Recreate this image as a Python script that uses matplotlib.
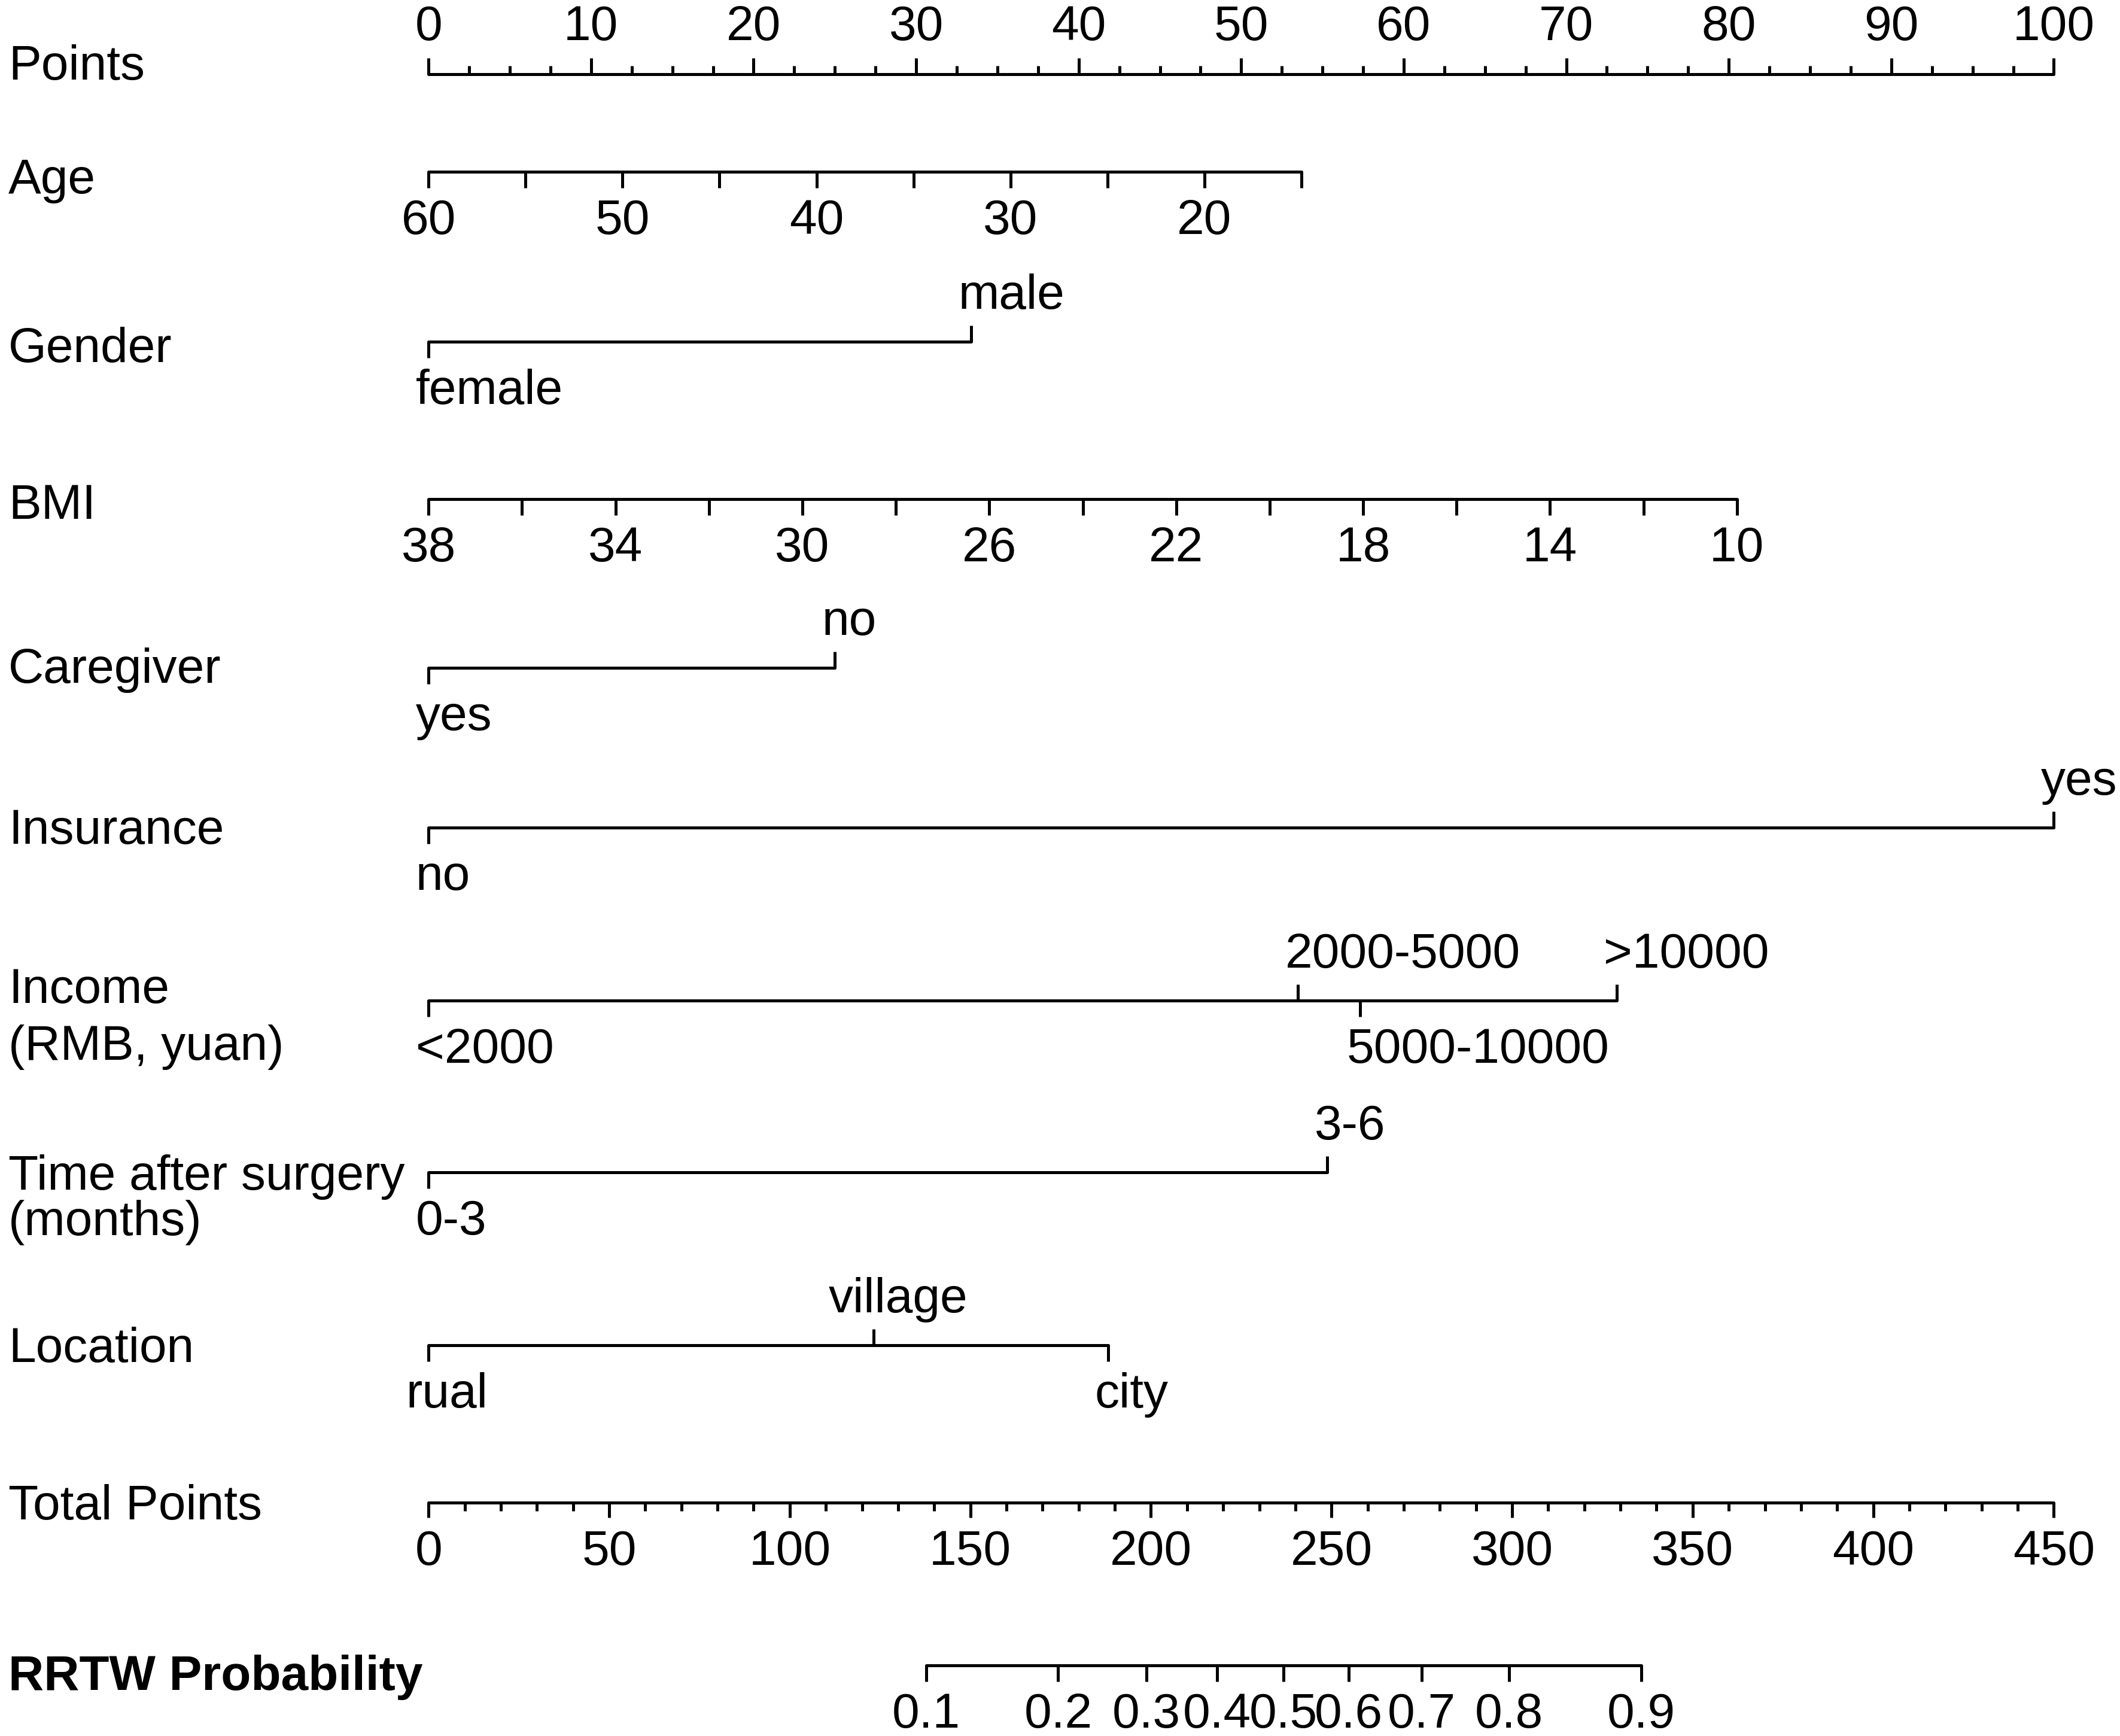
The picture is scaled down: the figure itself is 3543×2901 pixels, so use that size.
import matplotlib.pyplot as plt
from matplotlib.transforms import blended_transform_factory
import numpy as np

plt.rcParams['font.family'] = ['Liberation Sans', 'DejaVu Sans']

# ---- datos del nomograma ----
points_major = np.arange(0, 101, 10)
points_minor = np.arange(0, 100.1, 2.5)

# Age: 60 años -> 0 puntos, 15 años -> 53.7 puntos
age_ends = [60, 15]
age_pts_ends = [0, 53.7]
age_ticks = np.arange(60, 14, -5)
age_labels = [60, 50, 40, 30, 20]

gender_levels = ['female', 'male']
gender_pts = [0, 33.4]

bmi_ends = [38, 10]
bmi_pts_ends = [0, 80.5]
bmi_ticks = np.arange(38, 9, -2)
bmi_labels = [38, 34, 30, 26, 22, 18, 14, 10]

caregiver_levels = ['yes', 'no']
caregiver_pts = [0, 25.0]

insurance_levels = ['no', 'yes']
insurance_pts = [0, 100]

income_levels = ['<2000', '2000-5000', '5000-10000', '>10000']
income_pts = [0, 53.5, 57.3, 73.1]

time_levels = ['0-3', '3-6']
time_pts = [0, 55.3]

location_levels = ['rual', 'village', 'city']
location_pts = [0, 27.4, 41.8]

total_max = 450
total_major = np.arange(0, 451, 50)
total_minor = np.arange(0, 451, 10)

prob_labels = ['0.1', '0.2', '0.3', '0.4', '0.5', '0.6', '0.7', '0.8', '0.9']
prob_total_pts = [137.8, 174.3, 198.7, 218.3, 236.7, 254.8, 274.9, 299.1, 335.7]

# ---- estilo ----
FS = 19.7
LW = 1.2
TICK = 27
TICK_MINOR = 14
ABOVE = -55
BELOW = 104

fig = plt.figure(figsize=(3543 / 300, 2901 / 300), dpi=300)
ax = fig.add_axes([0, 0, 1, 1])
ax.set_xlim(-26.37, 104.07)
ax.set_ylim(2901, 0)
ax.axis('off')
left = blended_transform_factory(ax.transAxes, ax.transData)


def lin(v, ends, pts_ends):
    v = np.asarray(v, dtype=float)
    return pts_ends[0] + (v - ends[0]) * (pts_ends[1] - pts_ends[0]) / (ends[1] - ends[0])


def hline(y, x0, x1):
    ax.plot([x0, x1], [y, y], color='black', lw=LW, solid_capstyle='round')


def ticks(xs, y, length, up=False):
    y1 = y - length if up else y + length
    ax.vlines(xs, y, y1, color='black', lw=LW)


def row_label(text, y, bold=False):
    ax.text(0.004, y, text, transform=left, ha='left', va='baseline',
            fontsize=FS, fontweight='bold' if bold else 'normal')


def categorical(levels, pts, y, shift=None):
    shift = shift or {}
    hline(y, min(pts), max(pts))
    for i, (lab, p) in enumerate(zip(levels, pts)):
        up = i % 2 == 1
        ticks([p], y, TICK, up=up)
        ax.text(p + shift.get(lab, -0.8), y + (ABOVE if up else BELOW), lab,
                ha='left', va='baseline', fontsize=FS)


# Points
y = 124
hline(y, 0, 100)
ticks(points_minor, y, TICK_MINOR, up=True)
ticks(points_major, y, TICK, up=True)
for v in points_major:
    ax.text(v, y - 57, str(v), ha='center', va='baseline', fontsize=FS)
row_label('Points', 133)

# Age
y = 287
hline(y, *age_pts_ends)
ticks(lin(age_ticks, age_ends, age_pts_ends), y, TICK)
for v in age_labels:
    ax.text(lin(v, age_ends, age_pts_ends), y + BELOW, str(v), ha='center',
            va='baseline', fontsize=FS)
row_label('Age', 323)

# Gender
categorical(gender_levels, gender_pts, 571)
row_label('Gender', 605)

# BMI
y = 834
hline(y, *bmi_pts_ends)
ticks(lin(bmi_ticks, bmi_ends, bmi_pts_ends), y, TICK)
for v in bmi_labels:
    ax.text(lin(v, bmi_ends, bmi_pts_ends), y + BELOW, str(v), ha='center',
            va='baseline', fontsize=FS)
row_label('BMI', 867)

# Caregiver
categorical(caregiver_levels, caregiver_pts, 1116)
row_label('Caregiver', 1141)

# Insurance
categorical(insurance_levels, insurance_pts, 1383)
row_label('Insurance', 1410)

# Income
categorical(income_levels, income_pts, 1672)
row_label('Income', 1676)
row_label('(RMB, yuan)', 1771)

# Time after surgery
categorical(time_levels, time_pts, 1959)
row_label('Time after surgery', 1988)
row_label('(months)', 2064)

# Location
categorical(location_levels, location_pts, 2248, shift={'rual': -1.4, 'village': -2.8})
row_label('Location', 2276)

# Total Points
y = 2511
scale = 100 / total_max
hline(y, 0, total_max * scale)
ticks(total_minor * scale, y, TICK_MINOR)
ticks(total_major * scale, y, TICK - 2)
for v in total_major:
    ax.text(v * scale, y + BELOW, str(v), ha='center', va='baseline', fontsize=FS)
row_label('Total Points', 2539)

# RRTW Probability
y = 2783
px = np.array(prob_total_pts) * scale
hline(y, px[0], px[-1])
ticks(px, y, TICK)
for lab, p in zip(prob_labels, px):
    ax.text(p, y + BELOW, lab, ha='center', va='baseline', fontsize=FS)
row_label('RRTW Probability', 2824, bold=True)

fig.savefig('out.png', dpi=300)
